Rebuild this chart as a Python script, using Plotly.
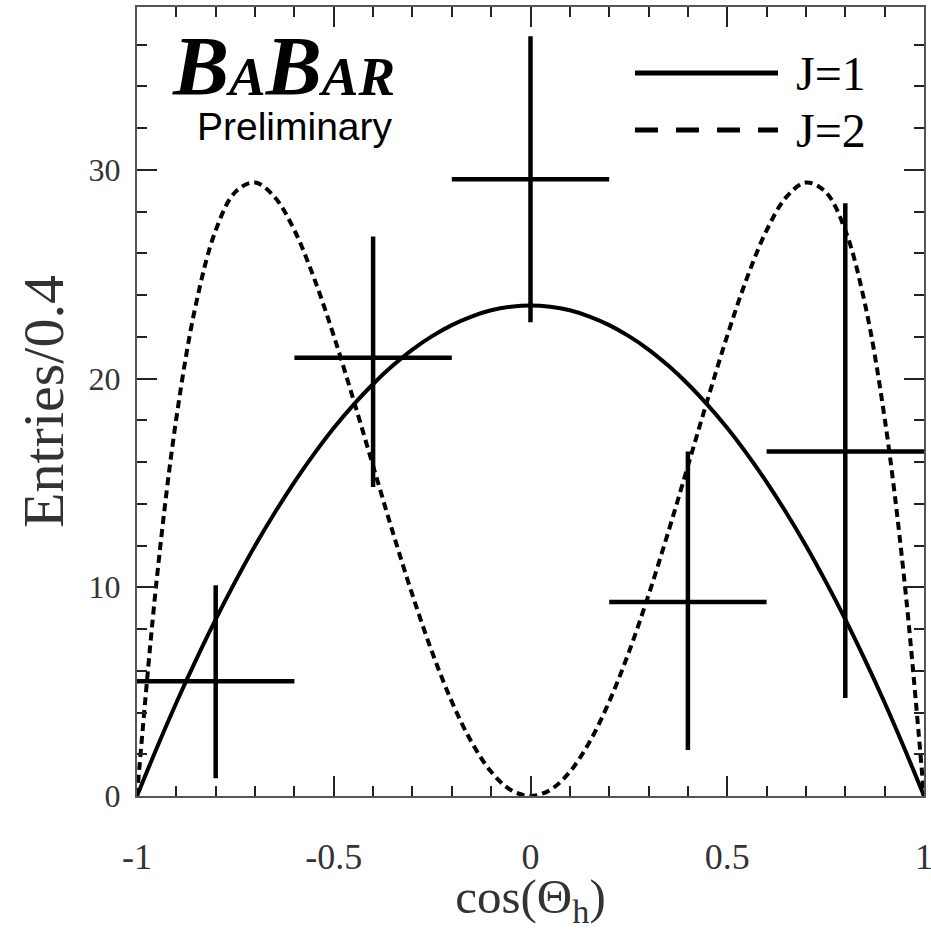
import plotly.graph_objects as go

# Measured helicity-angle distribution (bin centres, contents, errors)
bin_center = [-0.8, -0.4, 0.0, 0.4, 0.8]
bin_half_width = [0.2, 0.2, 0.2, 0.2, 0.2]
entries = [5.5, 21.0, 29.55, 9.3, 16.5]
err_up = [4.6, 5.8, 6.85, 7.2, 11.9]
err_down = [4.65, 6.2, 6.85, 7.1, 11.8]

# Spin hypotheses, sampled along cos(theta_h)
curve_x = [-1.0, -0.95, -0.9, -0.85, -0.8, -0.75, -0.7, -0.65, -0.6, -0.55, -0.5,
           -0.45, -0.4, -0.35, -0.3, -0.25, -0.2, -0.15, -0.1, -0.05, 0.0,
           0.05, 0.1, 0.15, 0.2, 0.25, 0.3, 0.35, 0.4, 0.45, 0.5,
           0.55, 0.6, 0.65, 0.7, 0.75, 0.8, 0.85, 0.9, 0.95, 1.0]
j1_curve = [0.0, 2.29, 4.47, 6.52, 8.46, 10.28, 11.99, 13.57, 15.04, 16.39, 17.63,
            18.74, 19.74, 20.62, 21.39, 22.03, 22.56, 22.97, 23.27, 23.44, 23.5,
            23.44, 23.27, 22.97, 22.56, 22.03, 21.39, 20.62, 19.74, 18.74, 17.63,
            16.39, 15.04, 13.57, 11.99, 10.28, 8.46, 6.52, 4.47, 2.29, 0.0]
j2_curve = [0.0, 10.35, 18.1, 23.58, 27.1, 28.94, 29.39, 28.69, 27.1, 24.81, 22.05,
            18.99, 15.81, 12.64, 9.63, 6.89, 4.52, 2.59, 1.16, 0.29, 0.0,
            0.29, 1.16, 2.59, 4.52, 6.89, 9.63, 12.64, 15.81, 18.99, 22.05,
            24.81, 27.1, 28.69, 29.39, 28.94, 27.1, 23.58, 18.1, 10.35, 0.0]

x_ticks = [-1, -0.5, 0, 0.5, 1]
x_tick_text = ["-1", "-0.5", "0", "0.5", "1"]
y_ticks = [0, 10, 20, 30]
y_tick_text = ["0", "10", "20", "30"]

SERIF = "Liberation Serif"
INK = "black"
LABEL = "#333"

fig = go.Figure()

fig.add_trace(go.Scatter(
    x=curve_x, y=j2_curve, mode="lines", line_shape="spline",
    line=dict(color=INK, width=4, dash="8px,5px"), showlegend=False,
    hoverinfo="skip"))

fig.add_trace(go.Scatter(
    x=curve_x, y=j1_curve, mode="lines", line_shape="spline",
    line=dict(color=INK, width=4), showlegend=False, hoverinfo="skip"))

fig.add_trace(go.Scatter(
    x=bin_center, y=entries, mode="markers",
    marker=dict(size=1, color=INK),
    error_x=dict(type="data", array=bin_half_width, color=INK, thickness=4.5, width=0),
    error_y=dict(type="data", symmetric=False, array=err_up, arrayminus=err_down,
                 color=INK, thickness=4.5, width=0),
    showlegend=False))

axis_common = dict(
    showline=True, linecolor="#555", linewidth=2, mirror="ticks",
    ticks="inside", ticklen=20, tickwidth=1.5, tickcolor="#222",
    showgrid=False, zeroline=False, automargin=False,
    ticklabeloverflow="allow",
)

fig.update_xaxes(
    range=[-1, 1], tickvals=x_ticks, ticktext=x_tick_text,
    tickfont=dict(family=SERIF, size=36, color=LABEL),
    minor=dict(dtick=0.1, ticks="inside", ticklen=10, tickwidth=1.5, tickcolor="#222"),
    ticklabelstandoff=28,
    title=dict(text="cos(Θ<sub>h</sub>)", font=dict(family=SERIF, size=49, color=LABEL),
               standoff=6),
    **axis_common)

fig.update_yaxes(
    range=[0, 37.8], tickvals=y_ticks, ticktext=y_tick_text,
    tickfont=dict(family=SERIF, size=32, color=LABEL),
    minor=dict(dtick=2, ticks="inside", ticklen=10, tickwidth=1.5, tickcolor="#222"),
    ticklabelstandoff=8,
    title=dict(text="Entries/0.4", font=dict(family=SERIF, size=58, color=LABEL),
               standoff=6),
    **axis_common)

# Legend drawn inside the frame
legend_rows = [("J=1", "solid", 73), ("J=2", "dash", 130)]
for label, dash, ypx in legend_rows:
    yp = 1 - (ypx - 7) / 789
    fig.add_shape(type="line", xref="paper", yref="paper",
                  x0=(635 - 137) / 787, x1=(778 - 137) / 787, y0=yp, y1=yp,
                  line=dict(color=INK, width=5, dash="23px,18px" if dash == "dash" else "solid"))
    fig.add_annotation(xref="paper", yref="paper", x=(794 - 137) / 787, y=yp,
                       xanchor="left", yanchor="middle", showarrow=False,
                       text=label, font=dict(family=SERIF, size=48, color=INK))

# Experiment logo
fig.add_annotation(
    xref="paper", yref="paper", x=(170 - 137) / 787, y=1 - (66 - 7) / 789,
    xanchor="left", yanchor="middle", showarrow=False,
    text="<b><i>B<span style='font-size:55px'>A</span>B<span style='font-size:55px'>AR</span></i></b>",
    font=dict(family=SERIF, size=84, color=INK))
fig.add_annotation(
    xref="paper", yref="paper", x=(295 - 137) / 787, y=1 - (127 - 7) / 789,
    xanchor="center", yanchor="middle", showarrow=False,
    text="Preliminary", font=dict(family="Liberation Sans", size=39, color=INK))

fig.update_layout(
    width=931, height=930,
    margin=dict(l=137, r=7, t=7, b=134),
    paper_bgcolor="white", plot_bgcolor="white",
    showlegend=False,
)

fig.write_html("out.html")
